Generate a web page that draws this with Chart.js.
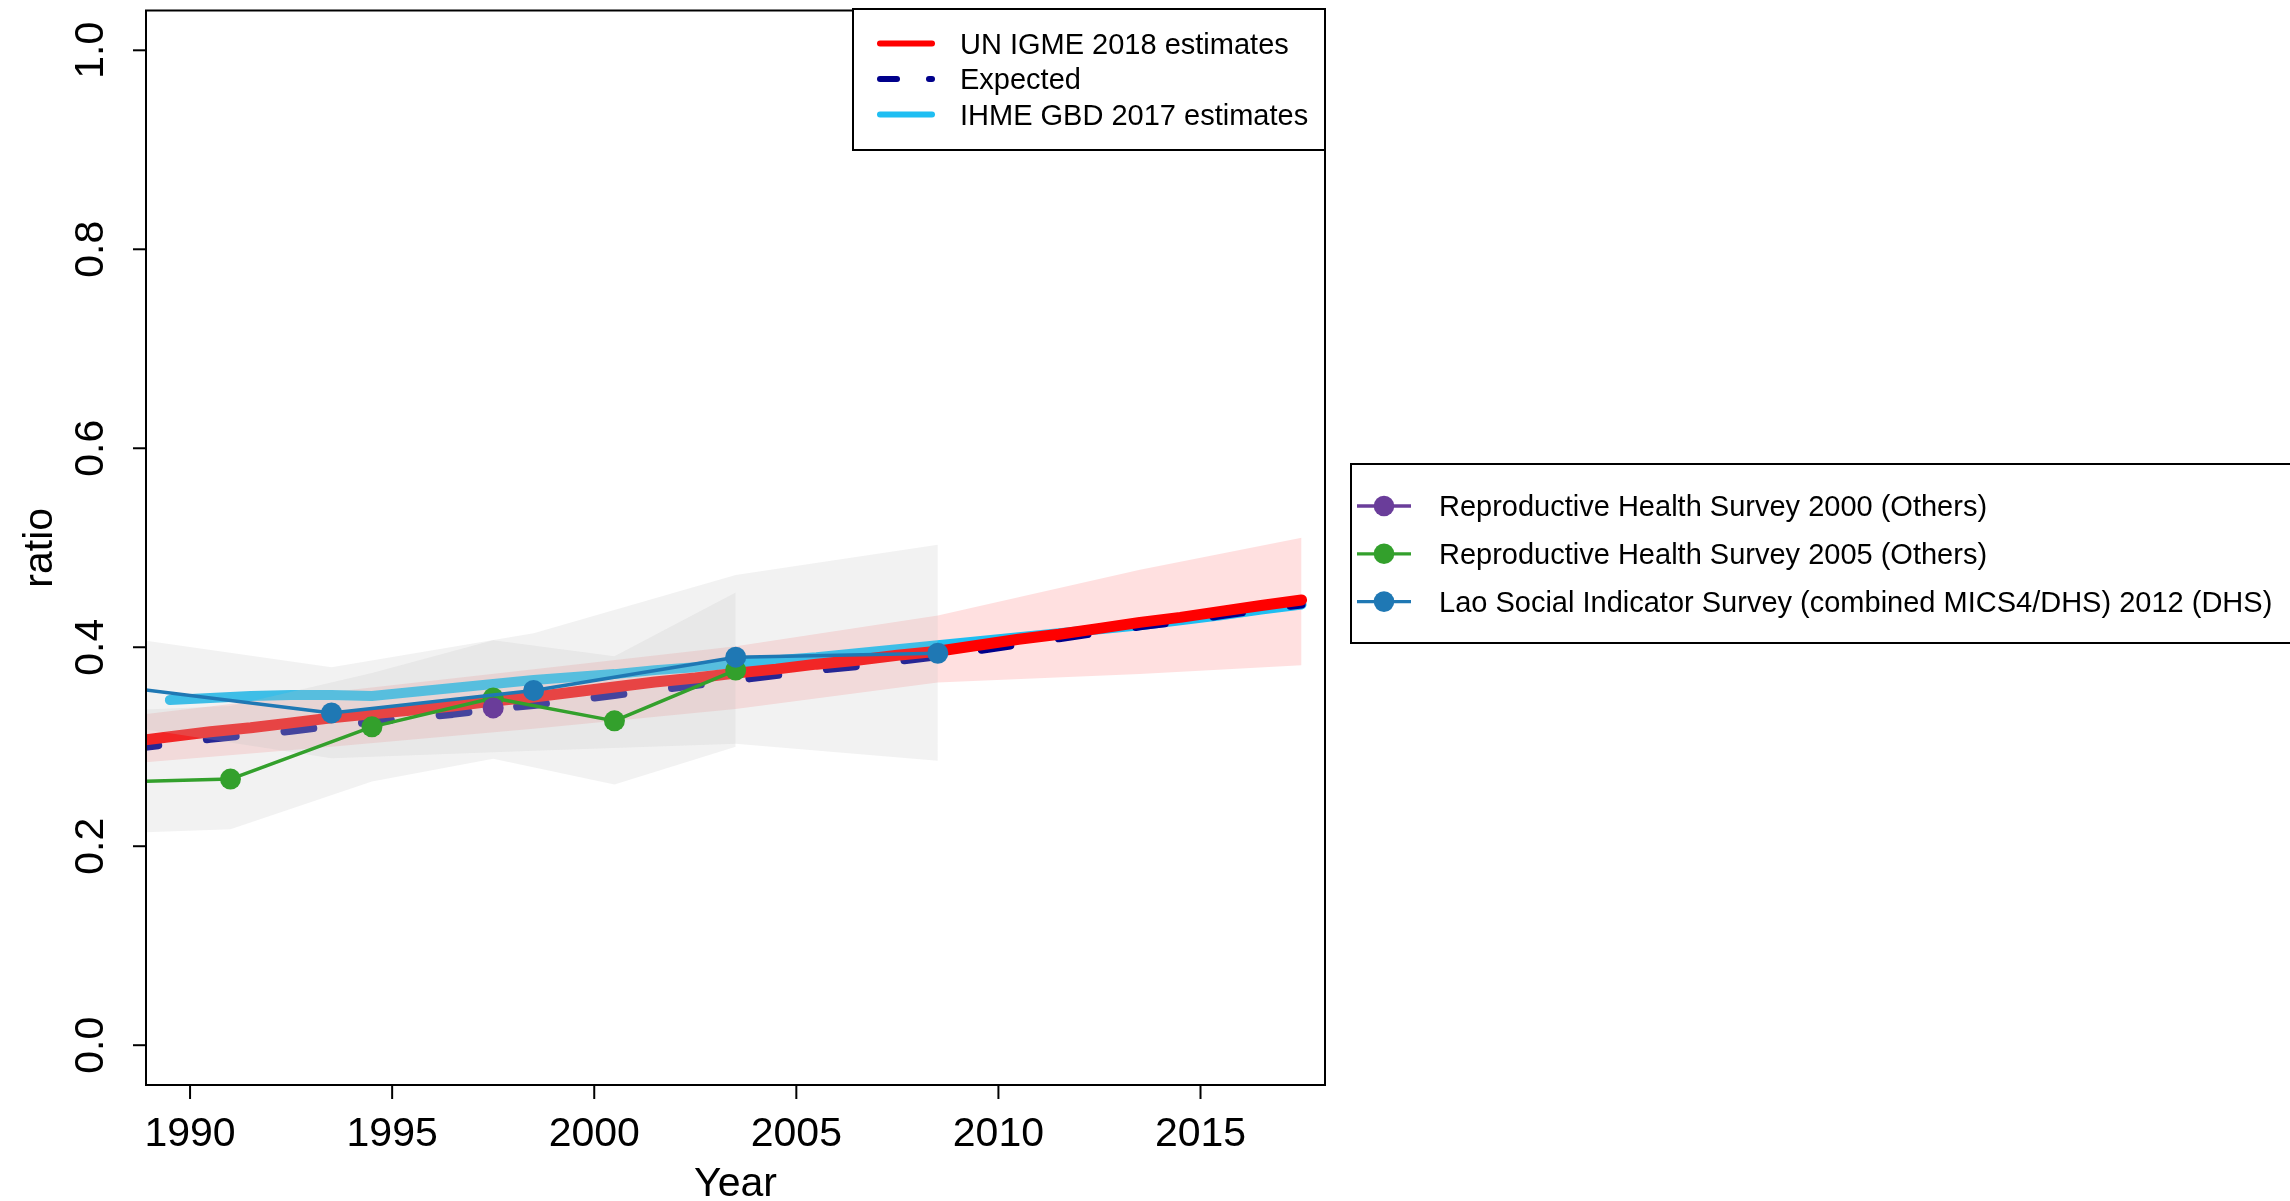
<!DOCTYPE html>
<html>
<head>
<meta charset="utf-8">
<script src="https://cdn.jsdelivr.net/npm/chart.js@4.4.1/dist/chart.umd.min.js"></script>
<style>
  html, body { margin: 0; padding: 0; background: #ffffff; }
  canvas { display: block; }
</style>
</head>
<body>
<canvas id="chart" width="2290" height="1201"></canvas>
<script>
const FONT = '"Liberation Sans", Arial, Helvetica, sans-serif';

// UN IGME 2018 estimates + expected
const igmeYears = [1988.5, 1989.5, 1990.5, 1991.5, 1992.5, 1993.5, 1994.5, 1995.5, 1996.5, 1997.5,
  1998.5, 1999.5, 2000.5, 2001.5, 2002.5, 2003.5, 2004.5, 2005.5, 2006.5, 2007.5,
  2008.5, 2009.5, 2010.5, 2011.5, 2012.5, 2013.5, 2014.5, 2015.5, 2016.5, 2017.5];
const igmeValues = [0.305, 0.310, 0.315, 0.319, 0.324, 0.329, 0.333, 0.337, 0.341, 0.346,
  0.350, 0.355, 0.360, 0.365, 0.369, 0.374, 0.378, 0.383, 0.387, 0.392,
  0.396, 0.402, 0.408, 0.413, 0.419, 0.425, 0.430, 0.436, 0.442, 0.4475];
const expectedValues = [0.298, 0.303, 0.308, 0.312, 0.316, 0.321, 0.325, 0.329, 0.333, 0.338,
  0.342, 0.347, 0.352, 0.357, 0.362, 0.367, 0.372, 0.377, 0.381, 0.386,
  0.391, 0.397, 0.403, 0.409, 0.415, 0.421, 0.426, 0.432, 0.438, 0.443];

// uncertainty band of the UN IGME estimates
const igmeBandYears = [1988.5, 1993.5, 1998.5, 2003.5, 2008.5, 2013.5, 2017.5];
const igmeUpper = [0.331, 0.355, 0.378, 0.401, 0.432, 0.478, 0.510];
const igmeLower = [0.283, 0.300, 0.318, 0.338, 0.3645, 0.373, 0.382];

// IHME GBD 2017
const ihmeYears = [1989.5, 1990.5, 1991.5, 1992.5, 1993.5, 1994.5, 1995.5, 1996.5, 1997.5, 1998.5,
  1999.5, 2000.5, 2001.5, 2002.5, 2003.5, 2004.5, 2005.5, 2006.5, 2007.5, 2008.5,
  2009.5, 2010.5, 2011.5, 2012.5, 2013.5, 2014.5, 2015.5, 2016.5, 2017.5];
const ihmeValues = [0.347, 0.349, 0.351, 0.352, 0.352, 0.351, 0.355, 0.359, 0.363, 0.367,
  0.370, 0.373, 0.377, 0.380, 0.384, 0.387, 0.390, 0.394, 0.398, 0.402,
  0.406, 0.410, 0.414, 0.418, 0.422, 0.427, 0.432, 0.438, 0.443];

// surveys
const rhs2000Years = [1997.5];
const rhs2000Values = [0.339];

const rhs2005Years = [1987.5, 1991.0, 1994.5, 1997.5, 2000.5, 2003.5];
const rhs2005Values = [0.264, 0.2675, 0.320, 0.349, 0.326, 0.377];
const rhs2005Upper = [0.335, 0.341, 0.374, 0.407, 0.391, 0.455];
const rhs2005Lower = [0.212, 0.217, 0.265, 0.288, 0.262, 0.300];

const lsisYears = [1988.5, 1993.5, 1998.5, 2003.5, 2008.5];
const lsisValues = [0.359, 0.334, 0.3565, 0.390, 0.394];
const lsisUpper = [0.409, 0.380, 0.414, 0.4726, 0.503];
const lsisLower = [0.320, 0.2885, 0.296, 0.303, 0.286];

const xTicks = [1990, 1995, 2000, 2005, 2010, 2015];
const yTicks = [0, 0.2, 0.4, 0.6, 0.8, 1.0];

const topLegend = [
  { label: "UN IGME 2018 estimates", color: "#ff0000", dashed: false },
  { label: "Expected", color: "#00008b", dashed: true },
  { label: "IHME GBD 2017 estimates", color: "#1fbef2", dashed: false },
];
const surveyLegend = [
  { label: "Reproductive Health Survey 2000 (Others)", color: "#6a3d9a" },
  { label: "Reproductive Health Survey 2005 (Others)", color: "#33a02c" },
  { label: "Lao Social Indicator Survey (combined MICS4/DHS) 2012 (DHS)", color: "#1f78b4" },
];

const pts = (xs, ys) => xs.map((x, i) => ({ x, y: ys[i] }));

const GRAY = "rgba(190,190,190,0.2)";

function bandEdge(xs, ys, fill, color, order) {
  return {
    data: pts(xs, ys),
    borderWidth: 0,
    borderColor: "transparent",
    pointRadius: 0,
    fill: fill ? "+1" : false,
    backgroundColor: color,
    order,
  };
}

function line(xs, ys, color, width, order, extra = {}) {
  return Object.assign({
    data: pts(xs, ys),
    borderColor: color,
    borderWidth: width,
    pointRadius: 0,
    fill: false,
    borderCapStyle: "round",
    borderJoinStyle: "round",
    order,
  }, extra);
}

function survey(xs, ys, color, order) {
  return line(xs, ys, color, 3.5, order, {
    pointRadius: 10.5,
    pointHoverRadius: 10.5,
    pointBackgroundColor: color,
    pointBorderWidth: 0,
    borderCapStyle: "butt",
  });
}

const datasets = [
  bandEdge(igmeBandYears, igmeUpper, true, "rgba(255,0,0,0.12)", 20),
  bandEdge(igmeBandYears, igmeLower, false, "transparent", 20),
  line(ihmeYears, ihmeValues, "#1fbef2", 10, 12),
  line(igmeYears, expectedValues, "#00008b", 8, 11, { borderDash: [29, 49] }),
  line(igmeYears, igmeValues, "#ff0000", 11, 10),
  bandEdge(rhs2005Years, rhs2005Upper, true, GRAY, 8),
  bandEdge(rhs2005Years, rhs2005Lower, false, "transparent", 8),
  bandEdge(lsisYears, lsisUpper, true, GRAY, 7),
  bandEdge(lsisYears, lsisLower, false, "transparent", 7),
  survey(rhs2005Years, rhs2005Values, "#33a02c", 3),
  survey(lsisYears, lsisValues, "#1f78b4", 2),
  survey(rhs2000Years, rhs2000Values, "#6a3d9a", 1),
];

function seg(ctx, x1, y1, x2, y2) {
  ctx.beginPath();
  ctx.moveTo(x1, y1);
  ctx.lineTo(x2, y2);
  ctx.stroke();
}

const frame = {
  id: "frame",
  afterDraw(chart) {
    const { ctx, chartArea: a } = chart;
    const x = chart.scales.x;
    const y = chart.scales.y;
    ctx.save();
    ctx.strokeStyle = "#000";
    ctx.fillStyle = "#000";
    ctx.lineWidth = 2;
    ctx.lineCap = "butt";
    ctx.strokeRect(a.left, a.top, a.right - a.left, a.bottom - a.top);

    // axes
    ctx.font = `41px ${FONT}`;
    ctx.textAlign = "center";
    ctx.textBaseline = "alphabetic";
    xTicks.forEach(t => {
      const px = x.getPixelForValue(t);
      seg(ctx, px, a.bottom, px, a.bottom + 14);
      ctx.fillText(String(t), px, 1146);
    });
    yTicks.forEach(t => {
      const py = y.getPixelForValue(t);
      seg(ctx, a.left - 13, py, a.left, py);
      ctx.save();
      ctx.translate(103, py);
      ctx.rotate(-Math.PI / 2);
      ctx.fillText(t.toFixed(1), 0, 0);
      ctx.restore();
    });
    ctx.fillText("Year", (a.left + a.right) / 2, 1196);
    ctx.save();
    ctx.translate(52, (a.top + a.bottom) / 2);
    ctx.rotate(-Math.PI / 2);
    ctx.fillText("ratio", 0, 0);
    ctx.restore();

    // top legend
    ctx.font = `29px ${FONT}`;
    ctx.textAlign = "left";
    ctx.fillStyle = "#fff";
    ctx.fillRect(853, 9, a.right - 853, 141);
    ctx.strokeStyle = "#000";
    ctx.lineWidth = 2;
    ctx.strokeRect(853, 9, a.right - 853, 141);
    topLegend.forEach((item, i) => {
      const ly = 43.5 + i * 35.5;
      ctx.strokeStyle = item.color;
      ctx.lineWidth = 6;
      ctx.lineCap = "round";
      if (item.dashed) {
        seg(ctx, 880, ly, 897, ly);
        seg(ctx, 929, ly, 932, ly);
      } else {
        seg(ctx, 880, ly, 932, ly);
      }
      ctx.fillStyle = "#000";
      ctx.fillText(item.label, 960, ly + 10.4);
    });

    // survey legend
    ctx.strokeStyle = "#000";
    ctx.lineWidth = 2;
    ctx.lineCap = "butt";
    ctx.strokeRect(1351, 464, 1000, 179);
    surveyLegend.forEach((item, i) => {
      const ly = 506 + i * 47.8;
      ctx.strokeStyle = item.color;
      ctx.lineWidth = 3.3;
      seg(ctx, 1357, ly, 1411, ly);
      ctx.fillStyle = item.color;
      ctx.beginPath();
      ctx.arc(1384, ly, 10.3, 0, Math.PI * 2);
      ctx.fill();
      ctx.fillStyle = "#000";
      ctx.fillText(item.label, 1439, ly + 10.4);
    });
    ctx.restore();
  },
};

new Chart(document.getElementById("chart"), {
  type: "line",
  data: { datasets },
  options: {
    responsive: false,
    animation: false,
    devicePixelRatio: 1,
    events: [],
    layout: { padding: { left: 146, top: 9, right: 965, bottom: 116 } },
    scales: {
      x: { type: "linear", min: 1988.91, max: 2018.08, display: false },
      y: { type: "linear", min: -0.04, max: 1.04, display: false },
    },
    plugins: {
      legend: { display: false },
      tooltip: { enabled: false },
    },
    elements: { line: { tension: 0 } },
  },
  plugins: [frame],
});
</script>
</body>
</html>
